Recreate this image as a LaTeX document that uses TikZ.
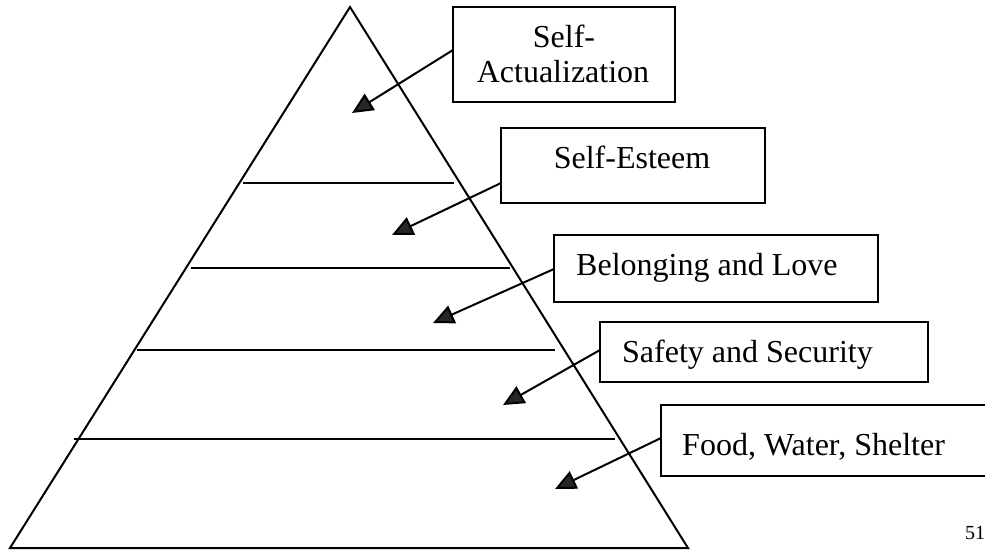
\documentclass[tikz,border=0pt]{standalone}
\usepackage{fontspec}
\setmainfont{Liberation Serif}
\usetikzlibrary{arrows.meta}
\begin{document}
\begin{tikzpicture}[x=1pt,y=-1pt,
  edge/.style={line width=2pt, line join=miter},
  box/.style={draw, line width=2pt, inner sep=0pt, outer sep=0pt},
  lbl/.style={inner sep=0pt, font=\fontsize{32}{36}\selectfont},
  pointer/.style={line width=2pt, -{Triangle[length=21pt,width=19pt,fill=black!85]}, shorten >=0pt}]
\clip (0,0) rectangle (985,550);
\useasboundingbox (0,0) rectangle (985,550);
% pyramid
\coordinate (apex) at (350,7);
\coordinate (bl) at (10,548);
\coordinate (br) at (688,548);
\draw[edge] (apex) -- (br) -- (bl) -- cycle;
% level lines
\coordinate (l1a) at (243,183); \coordinate (l1b) at (454,183);
\coordinate (l2a) at (191,268); \coordinate (l2b) at (510,268);
\coordinate (l3a) at (137,350); \coordinate (l3b) at (555,350);
\coordinate (l4a) at (74,439);  \coordinate (l4b) at (615,439);
\draw[edge] (l1a) -- (l1b);
\draw[edge] (l2a) -- (l2b);
\draw[edge] (l3a) -- (l3b);
\draw[edge] (l4a) -- (l4b);
% boxes
\node[box, minimum width=222pt, minimum height=95pt] (b1) at (564,54.5) {};
\node[box, minimum width=264pt, minimum height=75pt] (b2) at (633,165.5) {};
\node[box, minimum width=324pt, minimum height=67pt] (b3) at (716,268.5) {};
\node[box, minimum width=328pt, minimum height=60pt] (b4) at (764,352) {};
\node[box, minimum width=334pt, minimum height=71pt] (b5) at (828,440) {};
% texts
\node[lbl, anchor=base] (t1a) at (564,47) {Self-};
\node[lbl, anchor=base] (t1b) at (563,82) {Actualization};
\node[lbl, anchor=base] (t2) at (632,168) {Self-Esteem};
\node[lbl, anchor=base west] (t3) at (576,275) {Belonging and Love};
\node[lbl, anchor=base west] (t4) at (622,362) {Safety and Security};
\node[lbl, anchor=base west] (t5) at (682,455) {Food, Water, Shelter};
\node[inner sep=0pt, anchor=base west, font=\fontsize{20}{24}\selectfont] (pg) at (965,539) {51};
% arrow tips
\coordinate (p1) at (352,113);
\coordinate (p2) at (392,235);
\coordinate (p3) at (433,323);
\coordinate (p4) at (503,405);
\coordinate (p5) at (555,489);
\draw[pointer] ([yshift=4.5pt]b1.west) -- (p1);
\draw[pointer] ([yshift=-17.5pt]b2.west) -- (p2);
\draw[pointer] ([yshift=-0.5pt]b3.west) -- (p3);
\draw[pointer] ([yshift=2pt]b4.west) -- (p4);
\draw[pointer] ([yshift=2pt]b5.west) -- (p5);
\end{tikzpicture}
\end{document}
